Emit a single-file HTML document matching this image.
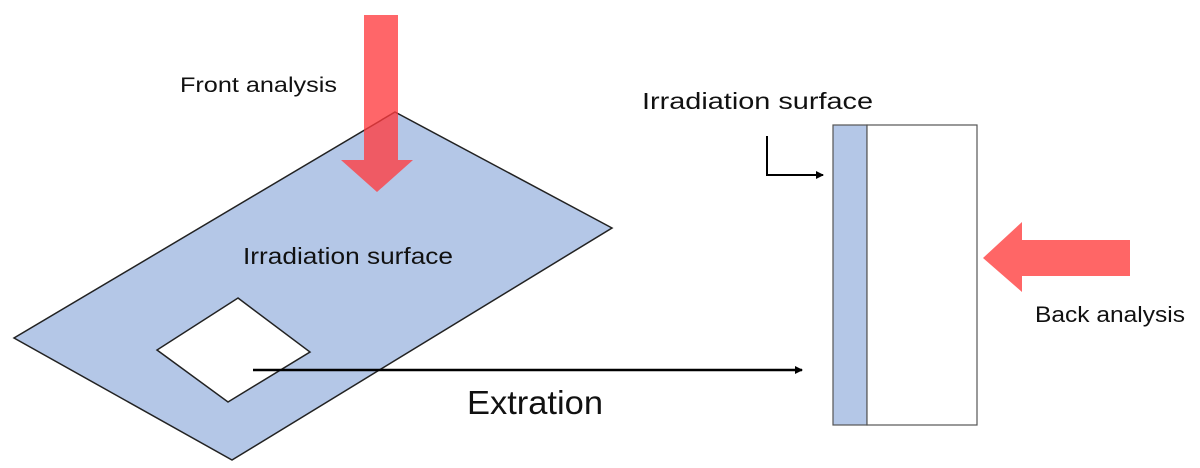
<!DOCTYPE html>
<html><head><style>
html,body{margin:0;padding:0;background:#fff;}
svg{display:block;}
text{font-family:"Liberation Sans",sans-serif;fill:#111;}
</style></head><body>
<svg width="1200" height="468" viewBox="0 0 1200 468" xmlns="http://www.w3.org/2000/svg">
<defs>
<marker id="ah" markerWidth="8" markerHeight="8" refX="7" refY="4" orient="auto" markerUnits="userSpaceOnUse">
<path d="M0,0 L8,4 L0,8 z" fill="#000"/>
</marker>
</defs>
<polygon points="395,112 612,228 232,460 14,338" fill="#b4c7e7" stroke="#222" stroke-width="1.5"/>
<polygon points="238,298 310,352 228,402 157,350" fill="#fff" stroke="#222" stroke-width="1.5"/>
<polygon points="364,15 398,15 398,160 413,160 377,192 341,160 364,160" fill="#ff3b3f" fill-opacity="0.78"/>
<text x="180" y="92" font-size="21" textLength="157" lengthAdjust="spacingAndGlyphs">Front analysis</text>
<text x="243" y="264" font-size="23" textLength="210" lengthAdjust="spacingAndGlyphs">Irradiation surface</text>
<line x1="253" y1="370" x2="802" y2="370" stroke="#000" stroke-width="2.5" marker-end="url(#ah)"/>
<text x="467" y="414" font-size="33" textLength="136" lengthAdjust="spacingAndGlyphs">Extration</text>
<rect x="833" y="125" width="34" height="300" fill="#b4c7e7" stroke="#555" stroke-width="1.2"/>
<rect x="867" y="125" width="110" height="300" fill="#fff" stroke="#555" stroke-width="1.2"/>
<polyline points="767,136 767,175 823,175" fill="none" stroke="#000" stroke-width="2" marker-end="url(#ah)"/>
<text x="642" y="109" font-size="23" textLength="231" lengthAdjust="spacingAndGlyphs">Irradiation surface</text>
<polygon points="983,258 1022,222 1022,240 1130,240 1130,276 1022,276 1022,292" fill="#ff6666"/>
<text x="1035" y="322" font-size="22" textLength="150" lengthAdjust="spacingAndGlyphs">Back analysis</text>
</svg>
</body></html>
